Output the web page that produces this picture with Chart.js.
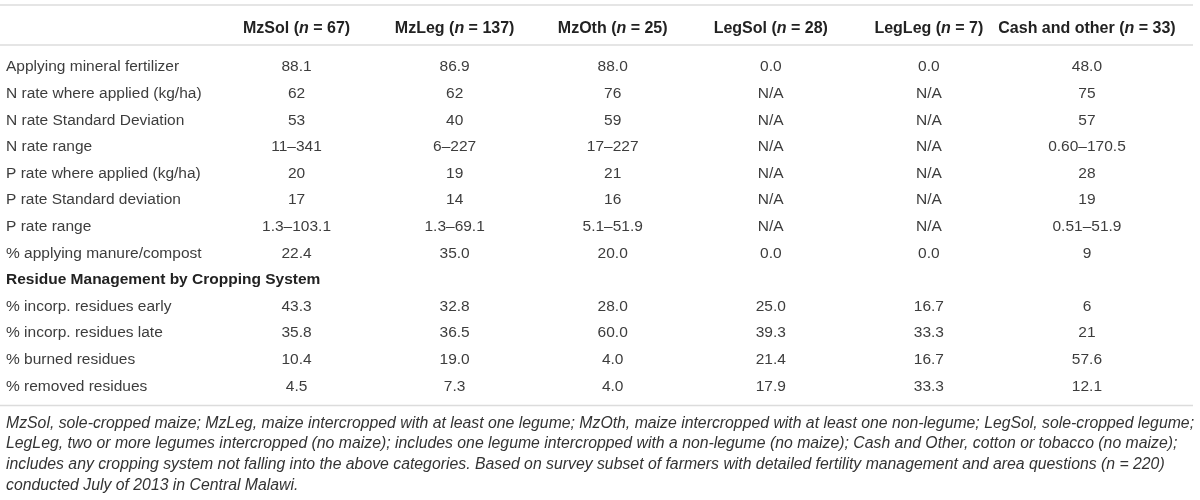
<!DOCTYPE html>
<html>
<head>
<meta charset="utf-8">
<script src="https://cdn.jsdelivr.net/npm/chart.js@4.4.1/dist/chart.umd.min.js"></script>
<style>
  html, body { margin: 0; padding: 0; background: #fff; }
  #wrap { width: 1200px; height: 500px; }
</style>
</head>
<body>
<div id="wrap"><canvas id="tableChart"></canvas></div>
<script>
// columns (cropping systems) and their sample sizes
const columns = ['MzSol', 'MzLeg', 'MzOth', 'LegSol', 'LegLeg', 'Cash and other'];
const sampleSizes = [67, 137, 25, 28, 7, 33];

// row labels, index 8 is the section heading
const rowLabels = [
  'Applying mineral fertilizer',
  'N rate where applied (kg/ha)',
  'N rate Standard Deviation',
  'N rate range',
  'P rate where applied (kg/ha)',
  'P rate Standard deviation',
  'P rate range',
  '% applying manure/compost',
  'Residue Management by Cropping System',
  '% incorp. residues early',
  '% incorp. residues late',
  '% burned residues',
  '% removed residues'
];
const sectionRow = 8;

// cell values per column
const mzSol = ['88.1', '62', '53', '11–341', '20', '17', '1.3–103.1', '22.4', '', '43.3', '35.8', '10.4', '4.5'];
const mzLeg = ['86.9', '62', '40', '6–227', '19', '14', '1.3–69.1', '35.0', '', '32.8', '36.5', '19.0', '7.3'];
const mzOth = ['88.0', '76', '59', '17–227', '21', '16', '5.1–51.9', '20.0', '', '28.0', '60.0', '4.0', '4.0'];
const legSol = ['0.0', 'N/A', 'N/A', 'N/A', 'N/A', 'N/A', 'N/A', '0.0', '', '25.0', '39.3', '21.4', '17.9'];
const legLeg = ['0.0', 'N/A', 'N/A', 'N/A', 'N/A', 'N/A', 'N/A', '0.0', '', '16.7', '33.3', '16.7', '33.3'];
const cashOther = ['48.0', '75', '57', '0.60–170.5', '28', '19', '0.51–51.9', '9', '', '6', '21', '57.6', '12.1'];
const columnValues = [mzSol, mzLeg, mzOth, legSol, legLeg, cashOther];

// footnote lines
const footnote = [
  'MzSol, sole-cropped maize; MzLeg, maize intercropped with at least one legume; MzOth, maize intercropped with at least one non-legume; LegSol, sole-cropped legume;',
  'LegLeg, two or more legumes intercropped (no maize); includes one legume intercropped with a non-legume (no maize); Cash and Other, cotton or tobacco (no maize);',
  'includes any cropping system not falling into the above categories. Based on survey subset of farmers with detailed fertility management and area questions (n = 220)',
  'conducted July of 2013 in Central Malawi.'
];

const FONT = "'Liberation Sans', Arial, Helvetica, sans-serif";
const TEXT = '#3d3d3d';
const DARK = '#222';
const RULE = '#dcdcdc';

// one invisible point per cell, text is drawn by the plugin at the point
const datasets = columns.map((col, c) => ({
  label: col,
  data: columnValues[c]
    .map((v, r) => ({ x: col, y: rowLabels[r], t: v }))
    .filter(p => p.t !== ''),
  pointRadius: 0,
  pointHoverRadius: 0
}));

const tablePlugin = {
  id: 'tableCells',
  afterDatasetsDraw(chart) {
    const { ctx, chartArea } = chart;
    const xScale = chart.scales.x;
    const yScale = chart.scales.y;
    ctx.save();

    // horizontal rules
    ctx.strokeStyle = RULE;
    ctx.lineWidth = 1.5;
    [5, chartArea.top - 8.7, chartArea.bottom + 5.7].forEach(y => {
      ctx.beginPath();
      ctx.moveTo(0, y);
      ctx.lineTo(chart.width - 7, y);
      ctx.stroke();
    });

    // column headers, italic n
    ctx.fillStyle = DARK;
    ctx.textBaseline = 'alphabetic';
    ctx.textAlign = 'left';
    const bold = 'bold 16px ' + FONT;
    const boldItalic = 'italic bold 16px ' + FONT;
    columns.forEach((col, i) => {
      const parts = [[col + ' (', bold], ['n', boldItalic], [' = ' + sampleSizes[i] + ')', bold]];
      let total = 0;
      parts.forEach(p => { ctx.font = p[1]; total += ctx.measureText(p[0]).width; });
      let x = xScale.getPixelForValue(i) - total / 2;
      parts.forEach(p => {
        ctx.font = p[1];
        ctx.fillText(p[0], x, 33);
        x += ctx.measureText(p[0]).width;
      });
    });

    // section heading spans the whole row
    ctx.font = 'bold 15.5px ' + FONT;
    ctx.textBaseline = 'middle';
    ctx.fillText(rowLabels[sectionRow], yScale.left, yScale.getPixelForValue(sectionRow));

    // cell values
    ctx.font = '15.5px ' + FONT;
    ctx.fillStyle = TEXT;
    ctx.textAlign = 'center';
    chart.data.datasets.forEach((ds, d) => {
      const meta = chart.getDatasetMeta(d);
      meta.data.forEach((pt, i) => {
        ctx.fillText(ds.data[i].t, pt.x, pt.y);
      });
    });
    ctx.restore();
  }
};

new Chart(document.getElementById('tableChart'), {
  type: 'scatter',
  data: { datasets: datasets },
  options: {
    responsive: true,
    maintainAspectRatio: false,
    animation: false,
    events: [],
    layout: { padding: { left: 6, right: 0, top: 0, bottom: 0 } },
    plugins: {
      legend: { display: false },
      tooltip: { enabled: false },
      title: {
        display: true,
        position: 'bottom',
        align: 'start',
        text: footnote,
        color: '#333',
        font: { family: FONT, size: 15.8, style: 'italic', weight: 'normal', lineHeight: 20.7 / 15.8 },
        padding: { top: 13.3, bottom: 4.2 }
      }
    },
    scales: {
      x: {
        type: 'category',
        labels: columns,
        position: 'top',
        offset: true,
        grid: { display: false },
        border: { display: false },
        ticks: { display: false },
        afterFit: s => { s.height = 53.7; }
      },
      y: {
        type: 'category',
        labels: rowLabels,
        offset: true,
        grid: { display: false },
        border: { display: false },
        ticks: {
          crossAlign: 'far',
          padding: 0,
          autoSkip: false,
          color: TEXT,
          font: { family: FONT, size: 15.5 },
          // the section heading is drawn by the plugin so it can run past the axis
          callback: (v, i) => i === sectionRow ? '' : rowLabels[i]
        },
        afterFit: s => { s.width = 211.5; }
      },
      spacer: {
        type: 'linear',
        position: 'right',
        grid: { display: false },
        border: { display: false },
        ticks: { display: false },
        afterFit: s => { s.width = 34; }
      }
    }
  },
  plugins: [tablePlugin]
});
</script>
</body>
</html>
